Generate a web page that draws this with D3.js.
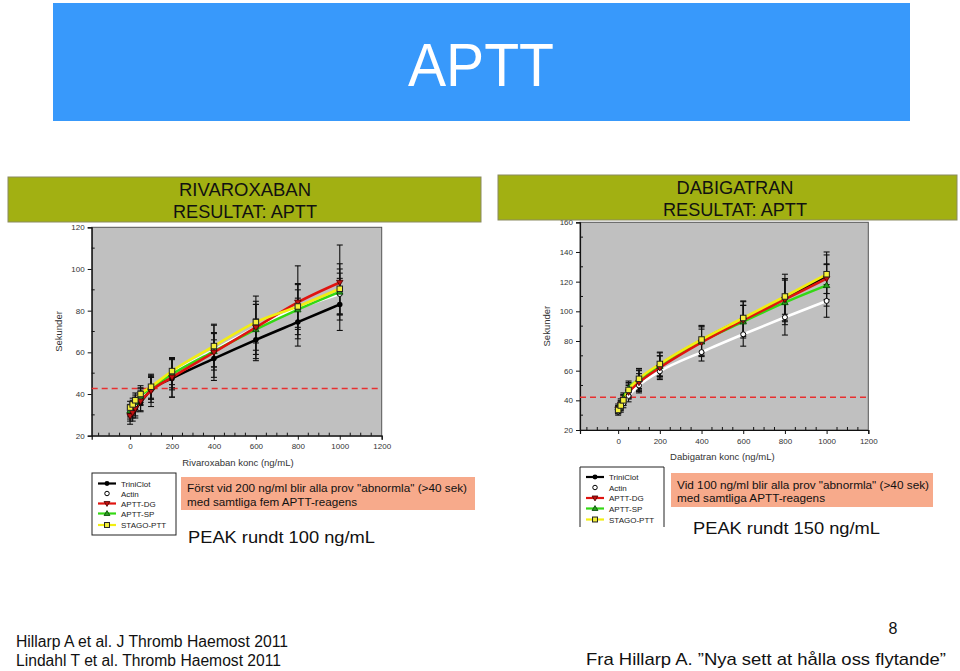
<!DOCTYPE html>
<html><head><meta charset="utf-8">
<script src="https://cdn.jsdelivr.net/npm/d3@7"></script>
<style>
html,body{margin:0;padding:0;background:#fff;}
svg{display:block;font-family:"Liberation Sans",Arial,sans-serif;}
</style></head>
<body><svg id="c" width="960" height="671"></svg>
<script>
// ---------- data ----------
const seriesNames = ["TriniClot","Actin","APTT-DG","APTT-SP","STAGO-PTT"];
const seriesColors = ["#000000","#ffffff","#e01410","#34d814","#f2ee12"];
const seriesMarkers = ["circle","opencircle","triDown","triUp","square"];
const drawOrder = [1,0,3,2,4];

const concentrations = [0,12.5,25,50,100,200,400,600,800,1000];

// Rivaroxaban (seconds)
const rivaTriniClot = [30,31.5,33,36,42,47.5,57,66,74.5,83];
const rivaActin     = [31,33,35,38.5,43,50,61,72,81,88];
const rivaDG        = [29.5,31,33,36.5,41.5,48,60,72,84,93.5];
const rivaSP        = [32,34,36,39,43,49.5,60.5,71,80.5,89];
const rivaStago     = [33.5,35,37,40,43.5,51,63,74.5,82,90.5];
const rivaSdTriniClot = [3,3,3.5,4,6,9,9,10,11.5,12.5];
const rivaSdActin     = [3,3,3.5,4,5,7,8,11,9,10];
const rivaSdDG        = [4,4,4.5,5,7.5,9.5,13.5,15,17.5,18];
const rivaSdSP        = [3,3,3.5,4,5.5,7.5,9,12,12,11];
const rivaSdStago     = [3,3,3.5,4,6,6.5,10,10,11,12];

// Dabigatran (seconds)
const dabiTriniClot = [33.5,36,40,46,53.5,64,80.5,95,109,124];
const dabiActin     = [32.5,35,38,43,50,59.5,72.5,84.5,96,107];
const dabiDG        = [34,37,40.5,45.5,52,62,79,94,108,122];
const dabiSP        = [35,38,41.5,48,54,63,79.5,93,106,117.5];
const dabiStago     = [33.5,36.5,40,47,54.5,64.5,81,95.5,110,125];
const dabiSdTriniClot = [2.5,3,3.5,5,7,8,10,12,16,16];
const dabiSdActin     = [2.5,3,3,4,5,4.5,6,8,12,11];
const dabiSdDG        = [2.5,3,3.5,4.5,6,8,9,10,14,10];
const dabiSdSP        = [2.5,3,3.5,5,6,7,10,11,15,14];
const dabiSdStago     = [2.5,3,3.5,5,7,8,9,11,12,13];

const xTicks = [0,200,400,600,800,1000,1200];
const rivaYTicks = [20,40,60,80,100,120];
const dabiYTicks = [20,40,60,80,100,120,140,160];
const rivaThreshold = 42.7;
const dabiThreshold = 42;

const svg = d3.select("#c");

// ---------- title ----------
svg.append("rect").attr("x",53).attr("y",3).attr("width",857).attr("height",118).attr("fill","#3899fb");
svg.append("text").attr("x",481).attr("y",86).attr("text-anchor","middle").attr("fill","#fff")
  .attr("font-size",62).attr("textLength",146).attr("lengthAdjust","spacingAndGlyphs").text("APTT");

function marker(g, type, x, y, s){
  if(type==="circle") g.append("circle").attr("cx",x).attr("cy",y).attr("r",s*0.55).attr("fill","#000");
  else if(type==="opencircle") g.append("circle").attr("cx",x).attr("cy",y).attr("r",s*0.5).attr("fill","#fff").attr("stroke","#000").attr("stroke-width",1);
  else if(type==="triDown") g.append("path").attr("d",`M${x-s*0.65},${y-s*0.45}L${x+s*0.65},${y-s*0.45}L${x},${y+s*0.65}Z`).attr("fill","#c01010").attr("stroke","#400").attr("stroke-width",0.8);
  else if(type==="triUp") g.append("path").attr("d",`M${x-s*0.65},${y+s*0.45}L${x+s*0.65},${y+s*0.45}L${x},${y-s*0.65}Z`).attr("fill","#2a9a20").attr("stroke","#040").attr("stroke-width",0.8);
  else if(type==="square") g.append("rect").attr("x",x-s*0.55).attr("y",y-s*0.55).attr("width",s*1.1).attr("height",s*1.1).attr("fill","#f4f03a").attr("stroke","#222").attr("stroke-width",1);
}

function chart(cfg){
  const g = svg.append("g");
  const x = d3.scaleLinear().domain([-183,1200]).range(cfg.xr);
  const y = d3.scaleLinear().domain(cfg.yd).range(cfg.yr);
  g.append("rect").attr("x",cfg.xr[0]).attr("y",cfg.yr[1]).attr("width",cfg.xr[1]-cfg.xr[0]).attr("height",cfg.yr[0]-cfg.yr[1])
    .attr("fill","#c0c0c0").attr("stroke","#555").attr("stroke-width",1);
  // axes
  const xa = g.append("g").attr("transform",`translate(0,${cfg.yr[0]})`)
    .call(d3.axisBottom(x).tickValues(xTicks).tickSize(4).tickPadding(4).tickFormat(d3.format("d")));
  const ya = g.append("g").attr("transform",`translate(${cfg.xr[0]},0)`)
    .call(d3.axisLeft(y).tickValues(cfg.yTicks).tickSize(4).tickPadding(3));
  [xa,ya].forEach(a=>{
    a.select(".domain").attr("stroke","#111").attr("stroke-width",1.2);
    a.selectAll(".tick line").attr("stroke","#111");
    a.selectAll("text").attr("font-size",8).attr("fill","#333").attr("font-family","Liberation Sans, Arial, sans-serif");
  });
  // minor ticks
  const mx = d3.range(-150,1200,50).filter(v=>v%200!==0);
  g.append("g").selectAll("line").data(mx).join("line")
    .attr("x1",d=>x(d)).attr("x2",d=>x(d)).attr("y1",cfg.yr[0]).attr("y2",cfg.yr[0]-3).attr("stroke","#111");
  const my = d3.range(cfg.yd[0]+10,cfg.yd[1],20);
  g.append("g").selectAll("line").data(my).join("line")
    .attr("y1",d=>y(d)).attr("y2",d=>y(d)).attr("x1",cfg.xr[0]).attr("x2",cfg.xr[0]+3).attr("stroke","#111");
  // labels
  g.append("text").attr("x",(x(0)+x(1000))/2+cfg.xlOff).attr("y",cfg.yr[0]+30).attr("text-anchor","middle")
    .attr("font-size",9.5).attr("fill","#333").text(cfg.xlabel);
  g.append("text").attr("transform",`translate(${cfg.xr[0]-30},${(cfg.yr[0]+cfg.yr[1])/2}) rotate(-90)`)
    .attr("text-anchor","middle").attr("font-size",9.5).attr("fill","#333").text("Sekunder");
  // threshold
  g.append("line").attr("x1",cfg.xr[0]).attr("x2",cfg.xr[1]).attr("y1",y(cfg.thr)).attr("y2",y(cfg.thr))
    .attr("stroke","#e83030").attr("stroke-width",1.5).attr("stroke-dasharray","6,4");
  // error bars
  const eb = g.append("g").attr("stroke","#111").attr("stroke-width",1.1);
  cfg.vals.forEach((vals,i)=>{
    vals.forEach((v,j)=>{
      const cx = x(concentrations[j]), sd = cfg.sds[i][j];
      eb.append("line").attr("x1",cx).attr("x2",cx).attr("y1",y(v-sd)).attr("y2",y(v+sd));
      eb.append("line").attr("x1",cx-3).attr("x2",cx+3).attr("y1",y(v-sd)).attr("y2",y(v-sd));
      eb.append("line").attr("x1",cx-3).attr("x2",cx+3).attr("y1",y(v+sd)).attr("y2",y(v+sd));
    });
  });
  // lines
  const line = d3.line().x((d,j)=>x(concentrations[j])).y(d=>y(d)).curve(d3.curveMonotoneX);
  drawOrder.forEach(i=>{
    g.append("path").attr("d",line(cfg.vals[i])).attr("fill","none").attr("stroke",seriesColors[i]).attr("stroke-width",2.6);
  });
  const mg = g.append("g");
  drawOrder.forEach(i=>{
    cfg.vals[i].forEach((v,j)=>marker(mg,seriesMarkers[i],x(concentrations[j]),y(v),5));
  });
}

chart({xr:[91.7,381.7], yr:[435.7,227.3], yd:[20,120], yTicks:rivaYTicks, thr:rivaThreshold,
  xlabel:"Rivaroxaban konc (ng/mL)", xlOff:3,
  vals:[rivaTriniClot,rivaActin,rivaDG,rivaSP,rivaStago],
  sds:[rivaSdTriniClot,rivaSdActin,rivaSdDG,rivaSdSP,rivaSdStago]});
chart({xr:[580,868.3], yr:[430,222.3], yd:[20,160], yTicks:dabiYTicks, thr:dabiThreshold,
  xlabel:"Dabigatran konc (ng/mL)", xlOff:0,
  vals:[dabiTriniClot,dabiActin,dabiDG,dabiSP,dabiStago],
  sds:[dabiSdTriniClot,dabiSdActin,dabiSdDG,dabiSdSP,dabiSdStago]});

// ---------- section headers ----------
function header(x0,y0,w,h,l1,l2,cx,b1,b2,w1){
  svg.append("rect").attr("x",x0).attr("y",y0).attr("width",w).attr("height",h).attr("fill","#a2b012").attr("stroke","#8a8a60").attr("stroke-width",1);
  svg.append("text").attr("x",cx).attr("y",b1).attr("text-anchor","middle").attr("font-size",17.5).attr("fill","#111")
    .attr("textLength",w1).attr("lengthAdjust","spacingAndGlyphs").text(l1);
  svg.append("text").attr("x",cx).attr("y",b2).attr("text-anchor","middle").attr("font-size",17.5).attr("fill","#111")
    .attr("textLength",144).attr("lengthAdjust","spacingAndGlyphs").text(l2);
}
header(8,177,473,45,"RIVAROXABAN","RESULTAT: APTT",245,196,218,132);
header(498,175,459,45,"DABIGATRAN","RESULTAT: APTT",735,194,216,117);

// ---------- legends ----------
function legend(x0,y0,h,rowYs,closed){
  const g = svg.append("g");
  g.append("rect").attr("x",x0).attr("y",y0).attr("width",84).attr("height",h).attr("fill","#fff");
  if(closed) g.append("rect").attr("x",x0).attr("y",y0).attr("width",84).attr("height",h).attr("fill","none").attr("stroke","#222");
  else g.append("path").attr("d",`M${x0},${y0+h}V${y0}H${x0+84}V${y0+h}`).attr("fill","none").attr("stroke","#222");
  seriesNames.forEach((n,i)=>{
    const yy = rowYs[i];
    if(i!==1) g.append("line").attr("x1",x0+6).attr("x2",x0+24).attr("y1",yy).attr("y2",yy).attr("stroke",seriesColors[i]).attr("stroke-width",2.2);
    marker(g,seriesMarkers[i],x0+15,yy,4.5);
    g.append("text").attr("x",x0+29).attr("y",yy+3).attr("font-size",8).attr("fill","#222").text(n);
  });
}
legend(92,473,62,[483.5,493.5,503.5,513.5,525],true);
legend(580,467,60,[477,487.5,498,508.5,519.5],false);

// ---------- notes ----------
function note(x0,y0,w,h,l1,l2,b1,b2,w1,w2){
  svg.append("rect").attr("x",x0).attr("y",y0).attr("width",w).attr("height",h).attr("fill","#f7aa8b");
  svg.append("text").attr("x",x0+6).attr("y",b1).attr("font-size",11.6).attr("fill","#111")
    .attr("textLength",w1).attr("lengthAdjust","spacingAndGlyphs").text(l1);
  svg.append("text").attr("x",x0+6).attr("y",b2).attr("font-size",11.6).attr("fill","#111")
    .attr("textLength",w2).attr("lengthAdjust","spacingAndGlyphs").text(l2);
}
note(181,477,294,33,"Först vid 200 ng/ml blir alla prov \"abnormla\" (>40 sek)","med samtliga fem APTT-reagens",492,505.5,280,170);
note(671,473,262,34,"Vid 100 ng/ml blir alla prov \"abnormla\" (>40 sek)","med samtliga APTT-reagens",488.5,502,252,148);

svg.append("text").attr("x",188).attr("y",543).attr("font-size",17).attr("fill","#111")
  .attr("textLength",187).attr("lengthAdjust","spacingAndGlyphs").text("PEAK rundt 100 ng/mL");
svg.append("text").attr("x",693).attr("y",534).attr("font-size",17).attr("fill","#111")
  .attr("textLength",187).attr("lengthAdjust","spacingAndGlyphs").text("PEAK rundt 150 ng/mL");

// ---------- footer ----------
svg.append("text").attr("x",16).attr("y",647).attr("font-size",16).attr("fill","#111")
  .attr("textLength",272).attr("lengthAdjust","spacingAndGlyphs").text("Hillarp A et al. J Thromb Haemost 2011");
svg.append("text").attr("x",16).attr("y",666).attr("font-size",16).attr("fill","#111")
  .attr("textLength",265).attr("lengthAdjust","spacingAndGlyphs").text("Lindahl T et al. Thromb Haemost 2011");
svg.append("text").attr("x",893).attr("y",634).attr("text-anchor","middle").attr("font-size",16).attr("fill","#111").text("8");
svg.append("text").attr("x",586).attr("y",665).attr("font-size",17).attr("fill","#111")
  .attr("textLength",360).attr("lengthAdjust","spacingAndGlyphs").text("Fra Hillarp A. ”Nya sett at hålla oss flytande”");
</script></body></html>
